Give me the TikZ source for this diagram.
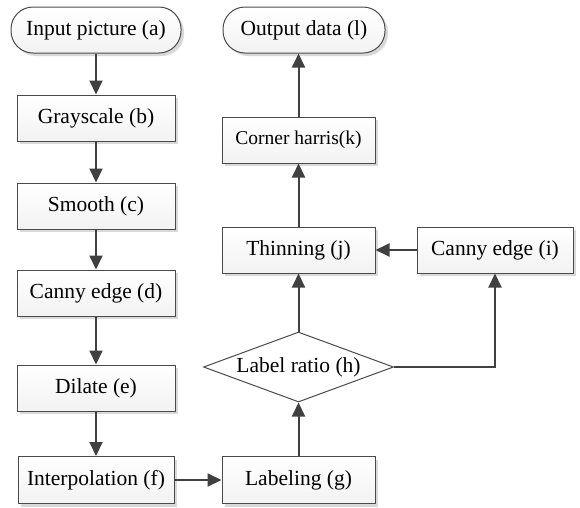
\documentclass[tikz,border=0pt]{standalone}
\usepackage{fontspec}
\setmainfont{LiberationSerif}[Extension=.ttf, UprightFont=*-Regular, BoldFont=*-Bold]
\usetikzlibrary{shapes.geometric,shadows,arrows.meta}
\definecolor{edgecol}{HTML}{404040}
\definecolor{boxline}{HTML}{4A4A4A}
\begin{document}
\begin{tikzpicture}[x=1pt,y=-1pt,
  box/.style={draw=boxline, line width=1pt, top color=white, bottom color=gray!10,
    minimum height=46pt, inner sep=0pt, font=\rmfamily\fontsize{21.5}{24}\selectfont,
    drop shadow={shadow xshift=3pt, shadow yshift=-3pt, fill=gray!30, opacity=1}},
  term/.style={box, rounded corners=22pt},
  dec/.style={draw=boxline, line width=1pt, fill=white, shape=diamond, aspect=2.7,
    minimum width=190pt, minimum height=70pt, inner sep=0pt,
    font=\rmfamily\fontsize{21.5}{24}\selectfont},
  arr/.style={draw=edgecol, line width=2pt, -{Triangle[length=14pt,width=13pt]}}]
\useasboundingbox (0,0) rectangle (580,507);
\node[term, minimum width=170pt] (a) at (96,30) {Input picture (a)};
\node[box, minimum width=158pt] (b) at (96,118) {Grayscale (b)};
\node[box, minimum width=158pt] (c) at (96,206) {Smooth (c)};
\node[box, minimum width=158pt] (d) at (96,293) {Canny edge (d)};
\node[box, minimum width=158pt] (e) at (96,388) {Dilate (e)};
\node[box, minimum width=156pt, minimum height=47pt] (f) at (96,480) {Interpolation (f)};
\node[box, minimum width=153pt, minimum height=47pt] (g) at (298.5,480) {Labeling (g)};
\node[dec] (h) at (298.5,367) {Label ratio (h)};
\node[box, minimum width=153pt] (j) at (298.5,250) {Thinning (j)};
\node[box, minimum width=156pt] (i) at (495,250) {Canny edge (i)};
\node[box, minimum width=153pt, font=\rmfamily\fontsize{19.5}{22}\selectfont] (k) at (298.5,140) {Corner harris(k)};
\node[term, minimum width=162pt] (l) at (304,30) {Output data (l)};
\draw[arr] (a) -- (b);
\draw[arr] (b) -- (c);
\draw[arr] (c) -- (d);
\draw[arr] (d) -- (e);
\draw[arr] (e) -- (f);
\draw[arr] (f) -- (g);
\draw[arr] (g) -- (h);
\draw[arr] (h) -- (j);
\draw[arr] (h.east) -| (i.south);
\draw[arr] (i) -- (j);
\draw[arr] (j) -- (k);
\draw[arr] (k.north) -- (k.north |- l.south);
\end{tikzpicture}
\end{document}
